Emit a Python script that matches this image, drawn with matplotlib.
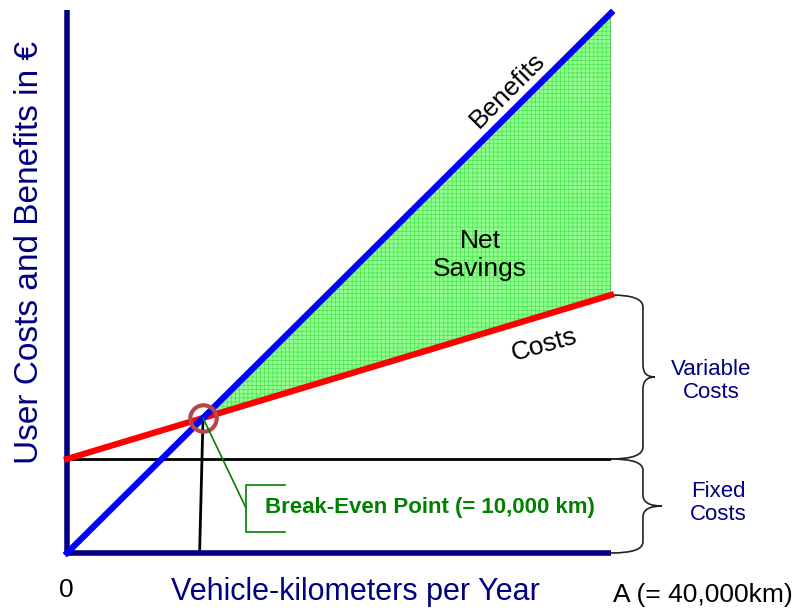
import numpy as np
import matplotlib
matplotlib.use("Agg")
import matplotlib.pyplot as plt
from matplotlib.path import Path
from matplotlib.patches import PathPatch

plt.rcParams['font.family'] = ['Liberation Sans', 'DejaVu Sans']
plt.rcParams['hatch.linewidth'] = 0.5

# break-even diagram data (km per year, euros)
km = np.array([0, 40000])
benefits = np.array([0, 5400])
costs = np.array([940, 2580])
fixed_cost = 940
break_even_km = 10000

NAVY = '#000080'
GREEN = '#008000'
W, H = 797, 612

fig = plt.figure(figsize=(W / 100, H / 100), dpi=100)
ax = fig.add_axes([67 / W, 59 / H, 544 / W, 543 / H])
ax.set_xlim(0, 40000)
ax.set_ylim(0, 5430)
ax.axis('off')

be_y = np.interp(break_even_km, km, benefits)

# net savings area between the two lines beyond break-even
sx = np.array([break_even_km, km[-1]])
ax.fill_between(sx, [be_y, benefits[-1]], [be_y, costs[-1]],
                facecolor='#90ff90', edgecolor='#4fe04f', hatch='++++',
                linewidth=0, zorder=1)
ax.plot([km[-1], km[-1]], [costs[-1], benefits[-1]], color='#555555', lw=1, zorder=2)

# fixed cost level and drop line from the break-even point
ax.plot(km, [fixed_cost, fixed_cost], color='black', lw=2, zorder=2)
ax.plot([break_even_km, break_even_km - 250], [be_y, 0], color='black', lw=2, zorder=2)

# axes drawn as thick lines
ax.plot([0, 0], [0, 5430], color=NAVY, lw=4, solid_capstyle='butt', zorder=3, clip_on=False)
ax.plot([0, 40000], [0, 0], color=NAVY, lw=4, solid_capstyle='butt', zorder=3, clip_on=False)

ax.plot(km, costs, color='#ff0000', lw=4.5, zorder=4, clip_on=False)
ax.plot(km, benefits, color='#0000ff', lw=4.5, zorder=5, clip_on=False)

ax.plot([break_even_km], [be_y], 'o', ms=19, mfc='none', mec='#b5474a', mew=3, zorder=6)

# leader from break-even point to the label bracket
ax.annotate('', xy=(break_even_km, be_y), xytext=(246, H - 508),
            textcoords='figure pixels',
            arrowprops=dict(arrowstyle='-', color=GREEN, lw=1.2,
                            shrinkA=0, shrinkB=0), zorder=6)
bx = np.array([285, 246, 246, 285])
by = np.array([485, 485, 532, 532])
fig.add_artist(plt.Line2D(bx / W, 1 - by / H, color=GREEN, lw=1.2))


def brace(y0, y1, xv, xt, dy=120):
    x0 = km[-1]
    ym = (y0 + y1) / 2
    verts = [(x0, y1), (xv, y1), (xv, y1 - dy),
             (xv, ym + dy), (xv, ym), (xt, ym),
             (xv, ym), (xv, ym - dy),
             (xv, y0 + dy), (xv, y0), (x0, y0)]
    codes = [Path.MOVETO, Path.CURVE3, Path.CURVE3,
             Path.LINETO, Path.CURVE3, Path.CURVE3,
             Path.CURVE3, Path.CURVE3,
             Path.LINETO, Path.CURVE3, Path.CURVE3]
    ax.add_patch(PathPatch(Path(verts, codes), fill=False, edgecolor='#222222',
                           lw=1.2, clip_on=False, zorder=2))


brace(fixed_cost, costs[-1], 42350, 43235)
brace(0, fixed_cost, 42350, 43750, dy=110)


def label(x, y, s, **kw):
    fig.text(x / W, 1 - y / H, s, ha='center', va='center', **kw)


label(508, 90, 'Benefits', fontsize=19, rotation=45)
label(544, 345, 'Costs', fontsize=19, rotation=16)
label(480, 255, 'Net\nSavings', fontsize=19, linespacing=1.25)
label(711, 381, 'Variable\nCosts', fontsize=16, color=NAVY, linespacing=1.1)
label(718, 503, 'Fixed\nCosts', fontsize=16, color=NAVY, linespacing=1.1)
label(430, 508, 'Break-Even Point (= 10,000 km)', fontsize=16, color=GREEN,
      fontweight='bold')
label(30, 252, 'User Costs and Benefits in €', fontsize=24, color=NAVY, rotation=90)
label(355, 592, 'Vehicle-kilometers per Year', fontsize=22, color=NAVY)
label(66, 590, '0', fontsize=19)
label(703, 595, 'A (= 40,000km)', fontsize=19)

fig.savefig('out.png', dpi=100)
